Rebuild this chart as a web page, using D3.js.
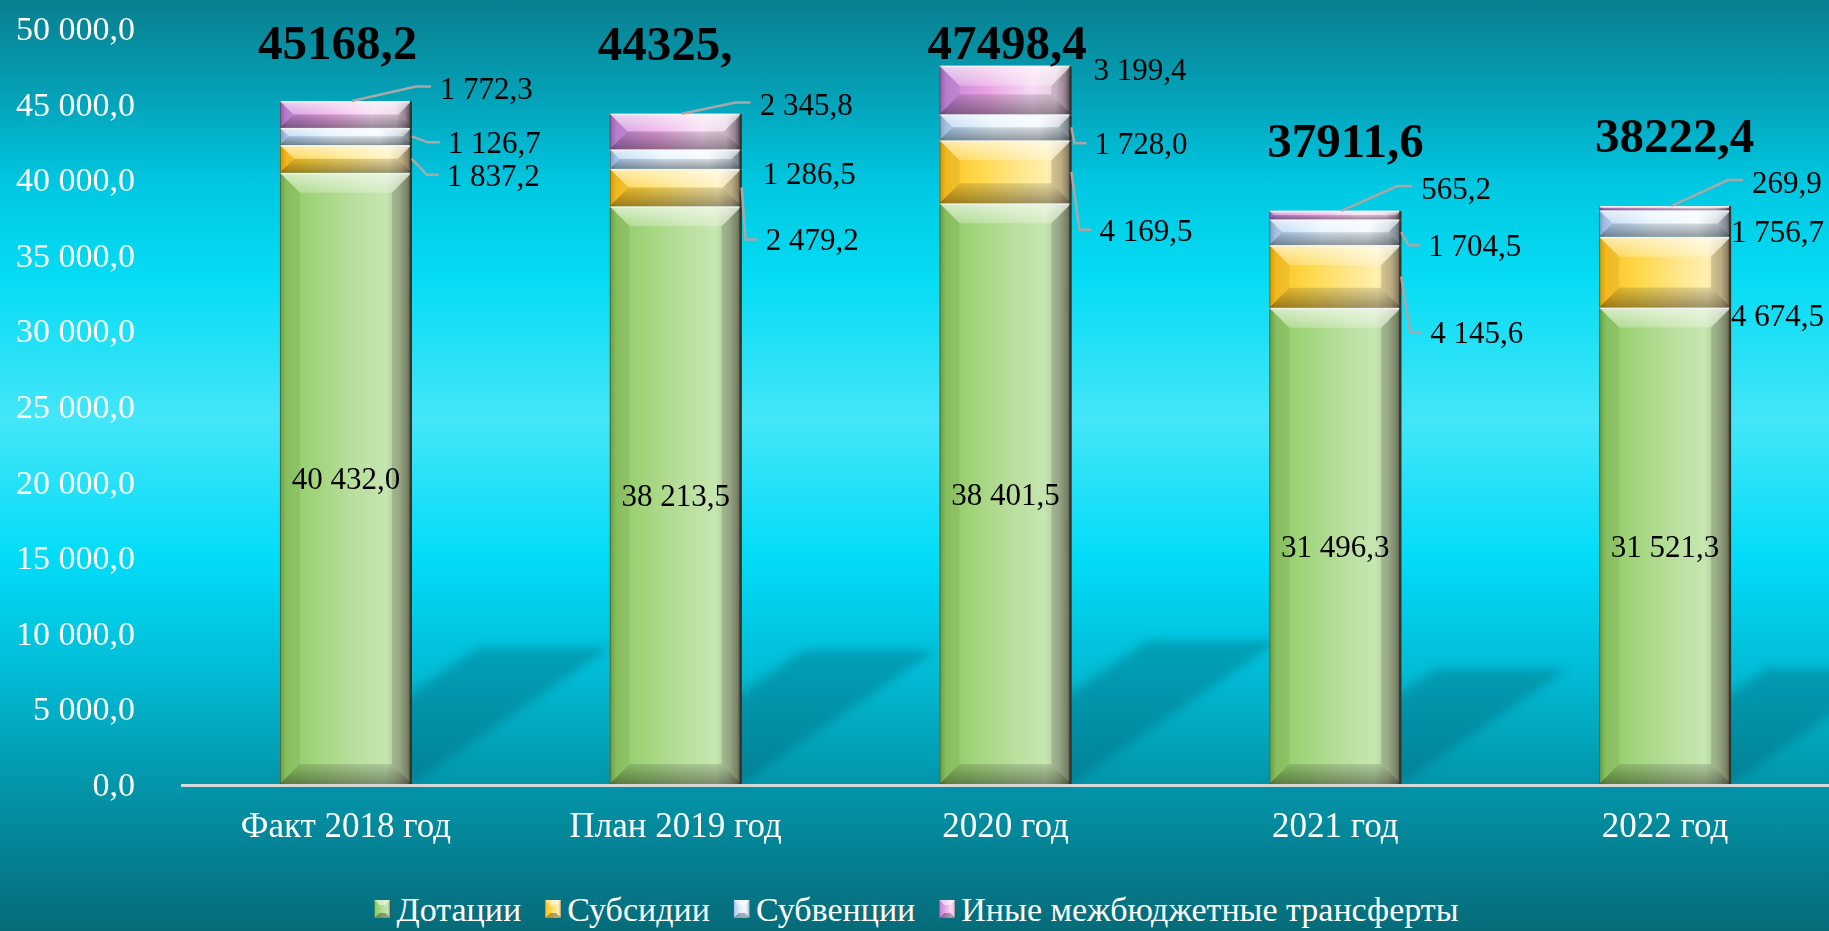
<!DOCTYPE html>
<html><head><meta charset="utf-8">
<script src="https://cdn.jsdelivr.net/npm/d3@7"></script>
<style>html,body{margin:0;padding:0;overflow:hidden;background:#0a8a9a}</style>
</head><body><svg id="chart" width="1829" height="931"></svg>
<script>
// ---------- data ----------
const categories = ["Факт 2018 год", "План 2019 год", "2020 год", "2021 год", "2022 год"];
const seriesNames = ["Дотации", "Субсидии", "Субвенции", "Иные межбюджетные трансферты"];
const dotacii   = [40432.0, 38213.5, 38401.5, 31496.3, 31521.3];
const subsidii  = [1837.2, 2479.2, 4169.5, 4145.6, 4674.5];
const subvencii = [1126.7, 1286.5, 1728.0, 1704.5, 1756.7];
const inye      = [1772.3, 2345.8, 3199.4, 565.2, 269.9];
const totalLabels = ["45168,2", "44325,", "47498,4", "37911,6", "38222,4"];
const yTicks = [0, 5000, 10000, 15000, 20000, 25000, 30000, 35000, 40000, 45000, 50000];

// ---------- layout (label nudges: [dx from bar right edge, dy from segment middle, leader: 0 none, 1 side, 2 top]) ----------
const labelNudge = [
  [[35, 16, 1], [36, 6, 1], [28, -26, 2]],
  [[24, 52, 1], [21, 14, 0], [18, -27, 2]],
  [[28, 58, 1], [23, 16, 1], [22, -21, 0]],
  [[29, 56, 1], [27, 13, 1], [20, -27, 2]],
  [[0, 43, 0], [0, 8, 0], [21, -26, 2]]
];
const totalDx = [-88, -78, -78, -68, -70];

const W = 1829, H = 931;
const svg = d3.select("#chart");
const defs = svg.append("defs");

const fmt = d3.formatLocale({decimal: ",", thousands: "\u00a0", grouping: [3], currency: ["", ""]}).format(",.1f");

// background gradient
const bg = defs.append("linearGradient").attr("id", "bg").attr("x1", 0).attr("y1", 0).attr("x2", 0).attr("y2", 1);
[[0, "#097f8f"], [0.1, "#04a0b6"], [0.2, "#00c8e2"], [0.3, "#06dcf4"], [0.45, "#44e6f8"], [0.6, "#02dcf8"],
 [0.72, "#02bcd6"], [0.84, "#0396ab"], [1, "#066b79"]].forEach(s => bg.append("stop").attr("offset", s[0]).attr("stop-color", s[1]));

// series gradients
const seriesGrad = [
  [[0, "#6aa848"], [0.05, "#90ca64"], [0.25, "#a0d47a"], [0.55, "#b8de9c"], [0.8, "#c6e6b0"], [0.9, "#b2c69c"], [0.97, "#8a9476"], [1, "#3e4234"]],
  [[0, "#e0a000"], [0.05, "#ffc424"], [0.3, "#ffd84a"], [0.6, "#ffe68a"], [0.82, "#fff0b0"], [0.92, "#dccb98"], [0.97, "#a89a78"], [1, "#4a4838"]],
  [[0, "#88a8d0"], [0.05, "#b0cff0"], [0.4, "#e2f2ff"], [0.75, "#f2f9ff"], [0.9, "#c8d2dc"], [0.97, "#909aa6"], [1, "#3c4046"]],
  [[0, "#9c60b8"], [0.05, "#c486d8"], [0.35, "#e8a2e2"], [0.7, "#f8d8f4"], [0.88, "#e6d0e2"], [0.95, "#b098aa"], [1, "#4a404a"]]
];
seriesGrad.forEach((st, i) => {
  const g = defs.append("linearGradient").attr("id", "sg" + i).attr("x1", 0).attr("y1", 0).attr("x2", 1).attr("y2", 0);
  st.forEach(s => g.append("stop").attr("offset", s[0]).attr("stop-color", s[1]));
});
const bevTop = defs.append("linearGradient").attr("id", "bevTop").attr("x1", 0).attr("y1", 0).attr("x2", 0).attr("y2", 1);
bevTop.append("stop").attr("offset", 0).attr("stop-color", "#fff").attr("stop-opacity", 0.65);
bevTop.append("stop").attr("offset", 1).attr("stop-color", "#fff").attr("stop-opacity", 0.25);
const bevBot = defs.append("linearGradient").attr("id", "bevBot").attr("x1", 0).attr("y1", 0).attr("x2", 0).attr("y2", 1);
bevBot.append("stop").attr("offset", 0).attr("stop-color", "#000").attr("stop-opacity", 0.12);
bevBot.append("stop").attr("offset", 1).attr("stop-color", "#000").attr("stop-opacity", 0.38);
const blur = defs.append("filter").attr("id", "blur").attr("x", "-20%").attr("y", "-20%").attr("width", "140%").attr("height", "140%");
blur.append("feGaussianBlur").attr("stdDeviation", 5);

svg.append("rect").attr("width", W).attr("height", H).attr("fill", "url(#bg)");

// scales
const x = d3.scaleBand().domain(categories).range([181, 1830]).paddingInner(0.6).paddingOuter(0.3);
const y = d3.scaleLinear().domain([0, 50000]).range([784, 28]);
const bw = x.bandwidth();

const table = categories.map((c, i) => ({cat: c, s0: dotacii[i], s1: subsidii[i], s2: subvencii[i], s3: inye[i]}));
const keys = ["s0", "s1", "s2", "s3"];
const stacked = d3.stack().keys(keys)(table);
const totals = table.map(d => d.s0 + d.s1 + d.s2 + d.s3);

// shadows
const shG = svg.append("g").attr("filter", "url(#blur)");
table.forEach((d, i) => {
  const L = x(d.cat), R = L + bw, y0 = y(0), h = y0 - y(totals[i]);
  const dx = 0.29 * h, dy = 0.2 * h;
  shG.append("polygon")
    .attr("points", [[L, y0], [R, y0], [R + dx, y0 - dy], [L + dx, y0 - dy]].map(p => p.join(",")).join(" "))
    .attr("fill", "#00566a").attr("opacity", 0.32);
});

// axis line
svg.append("line").attr("x1", 181).attr("x2", W).attr("y1", y(0) + 1.5).attr("y2", y(0) + 1.5)
  .attr("stroke", "#d8d8d8").attr("stroke-width", 3);

// y tick labels
svg.append("g").selectAll("text").data(yTicks).join("text")
  .attr("x", 135).attr("y", d => y(d)).attr("dy", "0.35em").attr("text-anchor", "end")
  .attr("font-family", "Liberation Serif, serif").attr("font-size", 34).attr("fill", "#fff")
  .text(d => fmt(d));

// bars
function poly(g, pts, fill, op) {
  g.append("polygon").attr("points", pts.map(p => p.join(",")).join(" ")).attr("fill", fill).attr("opacity", op == null ? 1 : op);
}
const barsG = svg.append("g");
stacked.forEach((layer, si) => {
  layer.forEach((d, i) => {
    const x0 = x(categories[i]), y0 = y(d[1]), y1 = y(d[0]), h = y1 - y0, w = bw;
    const b = Math.min(20, h / 2);
    const g = barsG.append("g");
    g.append("rect").attr("x", x0).attr("y", y0).attr("width", w).attr("height", h).attr("fill", "url(#sg" + si + ")");
    poly(g, [[x0, y0], [x0 + w, y0], [x0 + w - b, y0 + b], [x0 + b, y0 + b]], "url(#bevTop)");
    poly(g, [[x0, y1], [x0 + w, y1], [x0 + w - b, y1 - b], [x0 + b, y1 - b]], "url(#bevBot)");
    poly(g, [[x0, y0], [x0 + b, y0 + b], [x0 + b, y1 - b], [x0, y1]], "#000", 0.06);
    poly(g, [[x0 + w, y0], [x0 + w - b, y0 + b], [x0 + w - b, y1 - b], [x0 + w, y1]], "#000", 0.14);
    g.append("line").attr("x1", x0).attr("x2", x0 + w).attr("y1", y0 + 0.75).attr("y2", y0 + 0.75)
      .attr("stroke", "#f4f4f4").attr("stroke-width", 1.5).attr("opacity", 0.8);
    g.append("line").attr("x1", x0 + w - 1).attr("x2", x0 + w - 1).attr("y1", y0).attr("y2", y1)
      .attr("stroke", "#333328").attr("stroke-width", 2);
    g.append("line").attr("x1", x0 + 0.5).attr("x2", x0 + 0.5).attr("y1", y0).attr("y2", y1)
      .attr("stroke", "#3a4a30").attr("stroke-width", 1).attr("opacity", 0.6);
  });
});

// data labels
const labG = svg.append("g").attr("font-family", "Liberation Serif, serif").attr("font-size", 31).attr("fill", "#000");
const leadG = svg.append("g").attr("fill", "none").attr("stroke", "#a8a8a8").attr("stroke-width", 2.5);
stacked.forEach((layer, si) => {
  layer.forEach((d, i) => {
    const x0 = x(categories[i]), R = x0 + bw, mid = (y(d[0]) + y(d[1])) / 2;
    const val = d[1] - d[0];
    if (si === 0) {
      labG.append("text").attr("x", x0 + bw / 2).attr("y", mid).attr("dy", "0.35em").attr("text-anchor", "middle").text(fmt(val));
      return;
    }
    const [ndx, ndy, lt] = labelNudge[i][si - 1];
    const tx = R + ndx, ty = mid + ndy;
    labG.append("text").attr("x", tx).attr("y", ty).attr("dy", "0.35em").text(fmt(val));
    if (lt === 1) {
      leadG.append("polyline").attr("points", [[R, mid], [tx - 20, ty], [tx - 8, ty]].map(p => p.join(",")).join(" "));
    } else if (lt === 2) {
      leadG.append("polyline").attr("points", [[x0 + bw / 2 + 6, y(d[1])], [tx - 24, ty - 2], [tx - 9, ty - 2]].map(p => p.join(",")).join(" "));
    }
  });
});

// totals
svg.append("g").selectAll("text").data(totals).join("text")
  .attr("x", (d, i) => x(categories[i]) + bw / 2 + totalDx[i])
  .attr("y", d => Math.max(y(d) - 71, 42)).attr("dy", "0.35em")
  .attr("font-family", "Liberation Serif, serif").attr("font-weight", "bold").attr("font-size", 49).attr("fill", "#000")
  .text((d, i) => totalLabels[i]);

// category labels
svg.append("g").selectAll("text").data(categories).join("text")
  .attr("x", d => x(d) + bw / 2).attr("y", 825).attr("dy", "0.35em").attr("text-anchor", "middle")
  .attr("font-family", "Liberation Serif, serif").attr("font-size", 35).attr("fill", "#fff").text(d => d);

// legend
const legG = svg.append("g").attr("font-family", "Liberation Serif, serif").attr("font-size", 34).attr("fill", "#fff");
let lx = 0;
seriesNames.forEach((n, i) => {
  const g = legG.append("g");
  g.append("rect").attr("x", 0).attr("y", -9).attr("width", 16).attr("height", 18).attr("fill", "url(#sg" + i + ")");
  poly(g, [[0, -9], [16, -9], [11, -4], [5, -4]], "#fff", 0.5);
  poly(g, [[0, 9], [16, 9], [11, 4], [5, 4]], "#000", 0.3);
  const t = g.append("text").attr("x", 22).attr("y", 0).attr("dy", "0.35em").text(n);
  const wdt = 22 + t.node().getComputedTextLength();
  g.attr("transform", `translate(${lx},909)`);
  lx += wdt + 24;
});
const legW = lx - 24;
legG.attr("transform", `translate(${(W - legW) / 2 + 2},0)`);
</script></body></html>
